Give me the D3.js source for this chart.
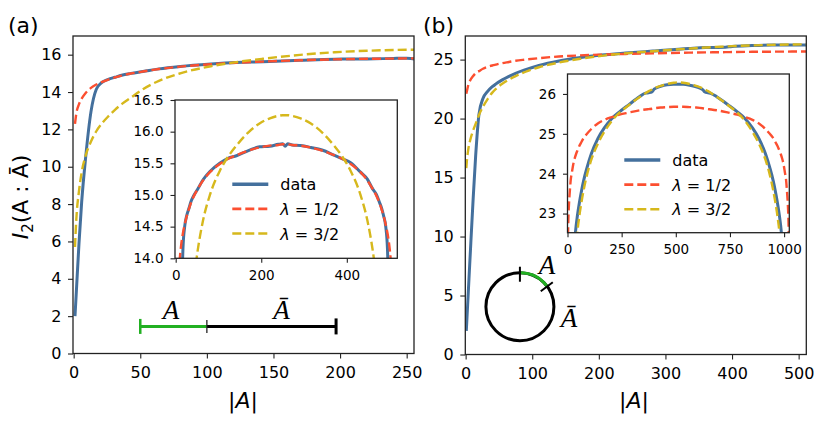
<!DOCTYPE html>
<html>
<head>
<meta charset="utf-8">
<script src="https://cdn.jsdelivr.net/npm/d3@7"></script>
<style>
  body { margin: 0; background: #fff; }
  svg text { font-family: "DejaVu Sans", sans-serif; fill: #000; }
  .main .tick text { font-size: 16px; }
  .inset .tick text { font-size: 13.5px; }
  .tick line { stroke: #222; stroke-width: 1.1; }
</style>
</head>
<body>
<svg id="chart" width="831" height="436"></svg>
<script>
// ---- panel (a): |A| samples, system of 512 sites ----
const sizesA = [1,2,4,6,9,13,17,21,26,31,36,43,52,64,80,103,122,142,170,196,220,240,250,256,
  262,272,292,316,342,370,390,409,432,448,460,469,476,481,486,491,495,499,503,506,508,510,511];
const dataA = [2.0,3.3,5.9,8.1,10.5,12.95,14.15,14.5,14.68,14.79,14.9,15.0,15.1,15.24,15.37,15.5,15.58,15.62,15.7,15.76,15.77,15.8,15.81,15.77,
  15.81,15.79,15.78,15.75,15.71,15.63,15.57,15.51,15.36,15.25,15.1,15.01,14.89,14.8,14.67,14.5,14.15,12.95,10.5,8.1,5.9,3.3,2.0];
const halfA = [12.3,12.85,13.35,13.65,13.95,14.22,14.4,14.53,14.67,14.78,14.88,14.99,15.1,15.23,15.36,15.49,15.57,15.63,15.7,15.75,15.78,15.79,15.8,15.8,
  15.8,15.79,15.78,15.75,15.7,15.63,15.57,15.49,15.36,15.23,15.1,14.99,14.88,14.78,14.67,14.53,14.4,14.22,13.95,13.65,13.35,12.85,12.3];
const threeHalfA = [5.7,7.2,8.7,9.7,10.6,11.35,11.9,12.3,12.7,13.05,13.35,13.7,14.15,14.6,15.0,15.38,15.6,15.78,15.99,16.13,16.21,16.25,16.26,16.26,
  16.26,16.25,16.21,16.13,15.99,15.78,15.6,15.38,15.0,14.6,14.15,13.7,13.35,13.05,12.7,12.3,11.9,11.35,10.6,9.7,8.7,7.2,5.7];

// ---- panel (b): |A| samples, system of 1024 sites ----
const sizesB = [1,2,4,7,11,15,20,26,33,40,45,55,65,75,90,110,140,170,204,240,281,335,360,375,390,400,430,460,490,512,
  534,564,594,624,634,649,664,689,743,784,820,854,884,914,934,949,959,969,979,984,991,998,1004,1009,1013,1017,1020,1022,1023];
const dataB = [2.0,3.1,5.3,8.6,12.9,16.8,20.35,21.7,22.3,22.7,22.92,23.28,23.58,23.84,24.15,24.5,24.88,25.15,25.38,25.55,25.72,25.94,26.02,26.03,26.05,26.12,26.19,26.23,26.24,26.24,
  26.24,26.22,26.18,26.11,26.05,26.03,26.01,25.93,25.72,25.55,25.38,25.15,24.88,24.5,24.15,23.84,23.58,23.28,22.92,22.7,22.3,21.7,20.35,16.8,12.9,8.6,5.3,3.1,2.0];
const halfB = [22.1,22.35,22.85,23.25,23.58,23.85,24.02,24.22,24.38,24.5,24.57,24.7,24.8,24.9,25.0,25.12,25.26,25.35,25.42,25.48,25.53,25.59,25.61,25.62,25.63,25.64,25.66,25.67,25.68,25.68,
  25.68,25.67,25.66,25.64,25.63,25.62,25.61,25.59,25.53,25.48,25.42,25.35,25.26,25.12,25.0,24.9,24.8,24.7,24.57,24.5,24.38,24.22,24.02,23.85,23.58,23.25,22.85,22.35,22.1];
const threeHalfB = [15.8,16.5,17.4,18.2,18.95,19.55,20.3,21.0,21.65,22.2,22.5,22.95,23.3,23.6,23.97,24.35,24.75,25.05,25.32,25.53,25.71,25.93,26.02,26.07,26.11,26.14,26.2,26.25,26.28,26.29,
  26.28,26.25,26.2,26.14,26.11,26.07,26.02,25.93,25.71,25.53,25.32,25.05,24.75,24.35,23.97,23.6,23.3,22.95,22.5,22.2,21.65,21.0,20.3,19.55,18.95,18.2,17.4,16.5,15.8];

// tick values
const mainTicksAx = [0,50,100,150,200,250], mainTicksAy = [0,2,4,6,8,10,12,14,16];
const insetTicksAx = [0,200,400], insetTicksAy = [14.0,14.5,15.0,15.5,16.0,16.5];
const mainTicksBx = [0,100,200,300,400,500], mainTicksBy = [0,5,10,15,20,25];
const insetTicksBx = [0,250,500,750,1000], insetTicksBy = [23,24,25,26];

const legendLabels = ["data", "1/2", "3/2"];

const colors = {data: "#44709d", half: "#fc4f30", threeHalf: "#d6b81c", green: "#22b022"};

const svg = d3.select("#chart");
svg.append("rect").attr("width", 831).attr("height", 436).attr("fill", "#fff");

let clipId = 0;

function drawAxes(box, xDomain, yDomain, xTicks, yTicks, yFmt, inset, series) {
  const x = d3.scaleLinear().domain(xDomain).range([box.left, box.right]);
  const y = d3.scaleLinear().domain(yDomain).range([box.bottom, box.top]);
  const g = svg.append("g").attr("class", inset ? "inset" : "main");

  g.append("rect")
    .attr("x", box.left).attr("y", box.top)
    .attr("width", box.right - box.left).attr("height", box.bottom - box.top)
    .attr("fill", "#fff");

  const cid = "clip" + (clipId++);
  g.append("clipPath").attr("id", cid)
    .append("rect")
      .attr("x", box.left).attr("y", box.top)
      .attr("width", box.right - box.left).attr("height", box.bottom - box.top);

  const line = d3.line()
    .x(d => x(d[0]))
    .y(d => y(d[1]))
    .curve(d3.curveMonotoneX);

  const lines = g.append("g").attr("clip-path", `url(#${cid})`);
  //data first, then the two fits on top
  lines.append("path")
    .attr("d", line(d3.zip(series.xs, series.data)))
    .attr("fill", "none").attr("stroke", colors.data)
    .attr("stroke-width", 3).attr("stroke-linejoin", "round");
  lines.append("path")
    .attr("d", line(d3.zip(series.xs, series.half)))
    .attr("fill", "none").attr("stroke", colors.half)
    .attr("stroke-width", 2.4).attr("stroke-dasharray", "9,4");
  lines.append("path")
    .attr("d", line(d3.zip(series.xs, series.threeHalf)))
    .attr("fill", "none").attr("stroke", colors.threeHalf)
    .attr("stroke-width", 2.4).attr("stroke-dasharray", "9,4");

  const ts = inset ? 4.5 : 5;
  g.append("g")
    .attr("transform", `translate(0,${box.bottom})`)
    .call(d3.axisBottom(x).tickValues(xTicks).tickSize(ts).tickPadding(inset ? 7.5 : 8).tickSizeOuter(0)
      .tickFormat(d3.format("d")))
    .call(a => a.select(".domain").remove());
  g.append("g")
    .attr("transform", `translate(${box.left},0)`)
    .call(d3.axisLeft(y).tickValues(yTicks).tickSize(ts).tickPadding(inset ? 7 : 6.5).tickSizeOuter(0)
      .tickFormat(yFmt))
    .call(a => a.select(".domain").remove());

  g.append("rect")
    .attr("x", box.left).attr("y", box.top)
    .attr("width", box.right - box.left).attr("height", box.bottom - box.top)
    .attr("fill", "none").attr("stroke", "#222").attr("stroke-width", 1.3);

  return {x, y, g};
}

function drawLegend(g, x0, y0) {
  const keys = ["data", "half", "threeHalf"];
  keys.forEach((k, i) => {
    const yy = y0 + i * 24.6;
    g.append("line")
      .attr("x1", x0).attr("x2", x0 + 36).attr("y1", yy).attr("y2", yy)
      .attr("stroke", colors[k]).attr("stroke-width", k == "data" ? 3.5 : 2.6)
      .attr("stroke-dasharray", k == "data" ? null : "9,4");
    const t = g.append("text").attr("x", x0 + 48).attr("y", yy + 6).style("font-size", "16px");
    if (k == "data") {
      t.text(legendLabels[i]);
    } else {
      t.append("tspan").attr("font-style", "italic").text("λ");
      t.append("tspan").text(" = " + legendLabels[i]);
    }
  });
}

function serifLabel(g, x, y, txt) {
  g.append("text").attr("x", x).attr("y", y)
    .attr("text-anchor", "middle")
    .style("font-family", "'Liberation Serif', 'DejaVu Serif', serif")
    .style("font-style", "italic").style("font-size", "27px")
    .text(txt);
}

// ---------- panel (a) ----------
const serA = {xs: sizesA, data: dataA, half: halfA, threeHalf: threeHalfA};
const mainA = drawAxes({left: 73, right: 414, top: 36, bottom: 353.5},
  [-0.5, 255.5], [0, 17], mainTicksAx, mainTicksAy, d3.format("d"), false, serA);

// interval sketch A | Abar, placed in data coordinates
{
  const g = mainA.g, x = mainA.x, y = mainA.y;
  const yy = y(1.45);
  g.append("line").attr("x1", x(100)).attr("x2", x(197)).attr("y1", yy).attr("y2", yy)
    .attr("stroke", "#000").attr("stroke-width", 3);
  g.append("line").attr("x1", x(50)).attr("x2", x(100)).attr("y1", yy).attr("y2", yy)
    .attr("stroke", colors.green).attr("stroke-width", 3);
  g.append("line").attr("x1", x(50)).attr("x2", x(50)).attr("y1", yy - 7.5).attr("y2", yy + 7.5)
    .attr("stroke", colors.green).attr("stroke-width", 2.5);
  g.append("line").attr("x1", x(100)).attr("x2", x(100)).attr("y1", yy - 6.5).attr("y2", yy + 6.5)
    .attr("stroke", "#222").attr("stroke-width", 1.3);
  g.append("line").attr("x1", x(197)).attr("x2", x(197)).attr("y1", yy - 8).attr("y2", yy + 8)
    .attr("stroke", "#000").attr("stroke-width", 3);
  serifLabel(g, x(73), yy - 7.5, "A");
  serifLabel(g, x(156), yy - 7.5, "Ā");
}

const insetA = drawAxes({left: 175, right: 397.3, top: 100, bottom: 258.3},
  [-1.6, 518], [14, 16.5], insetTicksAx, insetTicksAy, d3.format(".1f"), true, serA);
drawLegend(insetA.g, 232.3, 184.3);

// ---------- panel (b) ----------
const serB = {xs: sizesB, data: dataB, half: halfB, threeHalf: threeHalfB};
const mainB = drawAxes({left: 465.3, right: 806.3, top: 36, bottom: 354.5},
  [-0.5, 511.5], [0, 27], mainTicksBx, mainTicksBy, d3.format("d"), false, serB);

// ring sketch
{
  const g = mainB.g;
  const cx = mainB.x(81.5), cy = mainB.y(4.05), r = 34;
  const ring = g.append("g").attr("transform", `translate(${cx},${cy})`);
  ring.append("circle").attr("r", r).attr("fill", "none").attr("stroke", "#000").attr("stroke-width", 3);
  const end = 0.93;
  ring.append("path")
    .attr("d", d3.arc().innerRadius(r).outerRadius(r).startAngle(0).endAngle(end)())
    .attr("fill", "none").attr("stroke", colors.green).attr("stroke-width", 3.2);
  ring.append("line").attr("x1", 0).attr("x2", 0).attr("y1", -(r - 9)).attr("y2", -(r + 6))
    .attr("stroke", "#000").attr("stroke-width", 2);
  ring.append("line")
    .attr("x1", Math.sin(end) * (r - 8)).attr("y1", -Math.cos(end) * (r - 8))
    .attr("x2", Math.sin(end) * (r + 7)).attr("y2", -Math.cos(end) * (r + 7))
    .attr("stroke", "#000").attr("stroke-width", 2);
  serifLabel(g, cx + 27, cy - 33, "A");
  serifLabel(g, cx + 49, cy + 20, "Ā");
}

const insetB = drawAxes({left: 567.5, right: 789.3, top: 74, bottom: 232.7},
  [0, 1024], [22.52, 26.5], insetTicksBx, insetTicksBy, d3.format("d"), true, serB);
drawLegend(insetB.g, 624.3, 160);

// ---------- labels ----------
const ylab = svg.append("text")
  .attr("transform", "translate(28,197) rotate(-90)")
  .attr("text-anchor", "middle").style("font-size", "22px");
ylab.append("tspan").attr("font-style", "italic").text("I");
ylab.append("tspan").attr("dy", 5).style("font-size", "15px").text("2");
ylab.append("tspan").attr("dy", -5).text("(A : Ā)");

[[243, "a"], [634, "b"]].forEach(([cx]) => {
  const t = svg.append("text").attr("x", cx).attr("y", 408)
    .attr("text-anchor", "middle").style("font-size", "22px");
  t.append("tspan").text("|");
  t.append("tspan").attr("font-style", "italic").text("A");
  t.append("tspan").text("|");
});

svg.append("text").attr("x", 8).attr("y", 33).style("font-size", "22px").text("(a)");
svg.append("text").attr("x", 423).attr("y", 33).style("font-size", "22px").text("(b)");
</script>
</body>
</html>
